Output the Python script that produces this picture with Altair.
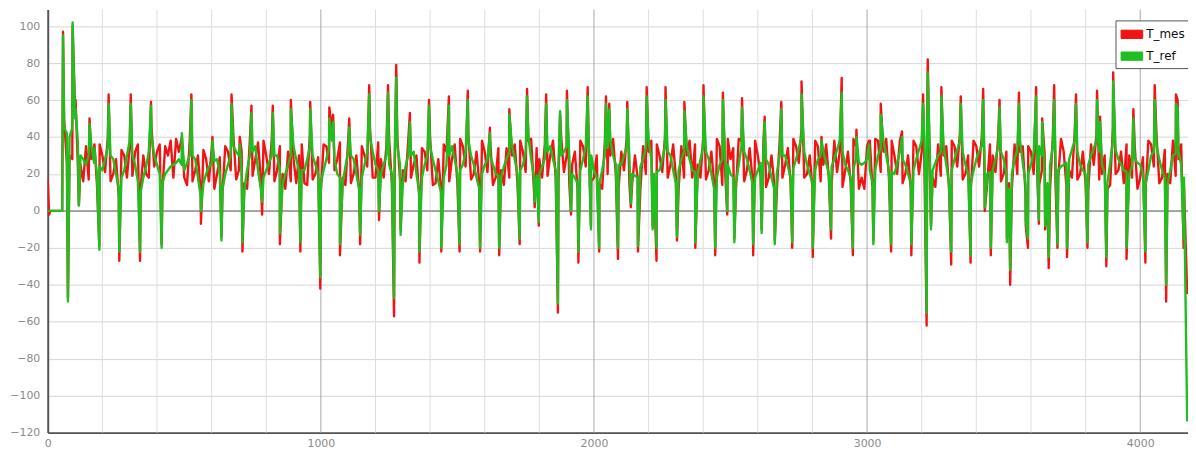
import altair as alt
import pandas as pd

series_names = ["T_mes", "T_ref"]
series_colors = ["#f01414", "#1fbf1f"]

# regular samples every 20 units (x = 0, 20, ..., 4160)
base_x = list(range(0, 4161, 20))
base_mes = [
    17, 0, 0, 50, 30, 55, 25, 35, 28, 15,
    30, 40, 20, 8, 30, 35, 32, 12, 20, 45,
    32, 12, 30, 18, 32, 18, 38, 22, 10, 28,
    33, 20, 10, 32, 40, 22, 15, 38, 28, 18,
    30, 38, 22, 20, 32, 28, 30, 15, 42, 20,
    10, 35, 45, 28, 18, 38, 20, 12, 30, 45,
    18, 28, 35, 15, 40, 22, 38, 25, 8, 32,
    40, 15, 12, 32, 28, 15, 35, 42, 20, 15,
    32, 38, 18, 22, 34, 30, 15, 32, 38, 12,
    28, 36, 30, 18, 40, 30, 25, 12, 35, 42,
    18, 15, 38, 30, 20, 32, 40, 15, 18, 35,
    32, 15, 30, 40, 25, 18, 35, 30, 18, 25,
    40, 22, 15, 35, 22, 28, 12, 38, 22, 18,
    30, 36, 18, 15, 38, 25, 15, 35, 45, 20,
    12, 35, 25, 18, 38, 32, 22, 15, 35, 18,
    35, 12, 38, 32, 18, 30, 38, 20, 12, 35,
    32, 45, 18, 36, 30, 12, 35, 42, 20, 12,
    35, 40, 15, 30, 40, 20, 15, 36, 32, 10,
    32, 35, 22, 12, 40, 18, 32, 22, 42, 20,
    15, 36, 42, 20, 12, 45, 22, 15, 30, 35,
    18, 12, 36, 40, 18, 20, 38, 28, 15,
]
base_ref = [
    0, 0, 0, 45, 40, 50, 30, 25, 35, 20,
    22, 35, 28, 12, 22, 38, 25, 10, 24, 40,
    25, 15, 22, 25, 28, 22, 30, 28, 8, 20,
    25, 28, 12, 25, 35, 30, 12, 30, 35, 12,
    22, 30, 30, 15, 25, 35, 22, 22, 35, 25,
    15, 28, 38, 20, 15, 32, 28, 12, 25, 40,
    25, 20, 30, 20, 35, 15, 30, 32, 10, 25,
    35, 22, 10, 25, 35, 20, 25, 38, 25, 12,
    25, 30, 20, 18, 28, 35, 20, 25, 40, 18,
    20, 28, 35, 22, 30, 35, 20, 15, 28, 40,
    22, 15, 30, 38, 25, 25, 35, 20, 18, 28,
    38, 20, 22, 35, 30, 15, 28, 35, 22, 20,
    35, 28, 12, 25, 30, 20, 15, 35, 28, 15,
    22, 30, 25, 12, 30, 30, 18, 28, 40, 25,
    15, 28, 32, 20, 28, 38, 25, 18, 28, 25,
    28, 15, 30, 38, 22, 20, 32, 25, 15, 28,
    38, 40, 22, 30, 35, 15, 28, 38, 25, 15,
    28, 35, 20, 22, 35, 28, 12, 28, 38, 15,
    25, 40, 30, 15, 35, 22, 25, 28, 38, 25,
    20, 30, 38, 25, 15, 38, 28, 22, 20, 28,
    25, 15, 30, 35, 22, 15, 30, 32, 18,
]

# in-between samples (x = 10, 30, ..., 4150)
mid_x = list(range(10, 4151, 20))
mid_mes = [
    0, 0, 0, 26, 28, 26, 16, 17, 35, 36,
    21, 16, 28, 33, 18, 19, 36, 30, 18, 24,
    36, 35, 38, 39, 39, 14, 16, 30, 33, 16,
    12, 29, 35, 22, 17, 32, 12, 19, 37, 38,
    20, 16, 35, 12, 16, 15, 36, 14, 17, 29,
    36, 26, 22, 37, 14, 15, 30, 35, 24, 18,
    37, 18, 39, 14, 17, 16, 18, 30, 34, 22,
    14, 28, 36, 16, 36, 39, 24, 17, 32, 38,
    21, 14, 34, 14, 18, 36, 38, 21, 39, 34,
    18, 19, 38, 15, 21, 14, 32, 38, 24, 16,
    30, 12, 20, 39, 12, 22, 14, 30, 12, 20,
    38, 36, 21, 18, 36, 12, 18, 38, 36, 18,
    17, 32, 39, 14, 39, 34, 39, 16, 34, 38,
    19, 13, 30, 12, 18, 34, 39, 26, 18, 30,
    38, 16, 36, 14, 21, 13, 32, 39, 12, 12,
    38, 39, 21, 39, 38, 20, 15, 30, 38, 20,
    24, 18, 13, 19, 35, 38, 24, 17, 30, 38,
    24, 14, 36, 21, 16, 32, 12, 20, 35, 35,
    20, 14, 31, 12, 15, 39, 13, 18, 17, 32,
    12, 25, 17, 30, 14, 20, 32, 36, 18, 12,
    29, 38, 24, 15, 33, 15, 19, 36,
]
mid_ref = [
    0, 0, 0, 42, 45, 38, 28, 30, 26, 24,
    28, 30, 20, 18, 30, 30, 16, 18, 32, 30,
    20, 20, 24, 26, 25, 26, 30, 18, 15, 24,
    27, 20, 20, 30, 32, 20, 22, 32, 22, 18,
    26, 30, 22, 20, 30, 28, 22, 28, 30, 20,
    22, 34, 28, 18, 24, 30, 20, 18, 32, 32,
    22, 25, 25, 28, 25, 24, 30, 20, 18, 30,
    28, 16, 18, 30, 28, 22, 32, 30, 18, 20,
    28, 25, 19, 24, 32, 28, 22, 32, 28, 19,
    24, 32, 28, 26, 32, 28, 18, 22, 35, 30,
    18, 22, 34, 30, 25, 30, 28, 19, 24, 34,
    28, 21, 28, 32, 22, 22, 32, 28, 21, 28,
    32, 20, 18, 28, 25, 18, 25, 32, 22, 18,
    26, 28, 18, 21, 30, 24, 23, 34, 32, 20,
    22, 30, 26, 24, 33, 32, 22, 23, 26, 26,
    22, 22, 34, 30, 21, 26, 28, 20, 22, 33,
    39, 31, 26, 32, 25, 22, 33, 32, 20, 22,
    32, 28, 21, 28, 32, 20, 20, 33, 26, 20,
    32, 35, 22, 25, 28, 24, 26, 33, 32, 22,
    25, 34, 32, 20, 26, 33, 25, 21, 24, 26,
    20, 22, 32, 28, 18, 22, 31, 25,
]

# spikes (peaks and troughs)
spike_x = [5, 53, 56, 74, 91, 102, 114, 153, 171, 189, 223, 262, 304, 338, 378, 417,
           491, 526, 561, 603, 636, 673, 703, 713, 746, 785, 824, 850, 890, 925, 961, 998,
           1031, 1045, 1070, 1104, 1144, 1177, 1213, 1246, 1268, 1276, 1292, 1326, 1361, 1396,
           1441, 1469, 1508, 1538, 1583, 1619, 1653, 1690, 1728, 1755, 1783, 1798, 1825, 1868,
           1876, 1901, 1916, 1943, 1977, 1989, 2019, 2044, 2056, 2088, 2122, 2135, 2161, 2193,
           2215, 2229, 2262, 2304, 2331, 2371, 2401, 2444, 2472, 2488, 2514, 2542, 2583, 2614,
           2625, 2662, 2686, 2726, 2760, 2801, 2833, 2868, 2907, 2948, 2961, 3007, 3023, 3050,
           3088, 3128, 3162, 3205, 3218, 3222, 3234, 3272, 3308, 3343, 3379, 3425, 3431, 3453,
           3485, 3512, 3524, 3556, 3581, 3589, 3619, 3629, 3641, 3652, 3665, 3685, 3697, 3732,
           3765, 3807, 3842, 3853, 3876, 3901, 3950, 3975, 4019, 4053, 4095, 4131, 4137, 4159,
           4172]
spike_mes = [-2, 0, 97, -47, 100, 60, 3, 50, 36, -19, 63, -27, 63, -27, 59, -18,
             40, 63, -7, 40, -14, 63, 40, -22, 57, -2, 57, -18, 60, -22, 59, -42,
             56, 52, -24, 50, -18, 68, -5, 68, -57, 79, -10, 53, -28, 60,
             -22, 62, -22, 65, -22, 45, -24, 55, -18, 66, 2, -8, 63, -55,
             52, 65, -2, -28, 67, -8, -22, 62, 58, -26, 59, 2, -22, 67,
             -8, -27, 67, -16, 59, -20, 68, -24, 64, -2, -15, 61, -24, -10,
             51, -16, 59, -20, 70, -25, 40, -15, 72, -24, 44, 38, -16, 58,
             -22, 43, -24, 63, -62, 82, -8, 67, -29, 62, -28, 66, 0, -24,
             60, -15, -40, 64, -8, -20, 67, -7, 50, -10, -31, 68, -20, -25,
             63, -20, 65, 51, -30, 75, -26, 55, -28, 68, -49, 63, 60, -20,
             -45]
spike_ref = [0, 0, 95, -49, 102, 55, 3, 47, 34, -21, 58, -22, 58, -22, 57, -20,
             42, 60, 0, 38, -16, 58, 36, -17, 53, 5, 53, -12, 55, -17, 55, -36,
             50, 48, -18, 45, -13, 63, 0, 64, -47, 72, -13, 48, -22, 57,
             -20, 57, -18, 60, -20, 42, -20, 52, -15, 62, 5, -6, 58, -50,
             54, 60, 0, -22, 62, -10, -20, 58, 55, -20, 55, 4, -19, 62,
             -10, -20, 60, -14, 54, -17, 62, -20, 60, 0, -17, 56, -18, -12,
             48, -18, 55, -17, 63, -20, 38, -10, 64, -20, 40, 36, -18, 52,
             -18, 40, -18, 58, -55, 75, -10, 62, -22, 58, -24, 60, 2, -20,
             56, -17, -32, 58, -5, -15, 62, -5, 48, -8, -25, 60, -18, -20,
             58, -17, 60, 48, -25, 70, -20, 50, -22, 60, -40, 58, 55, -15,
             -114]

x_labels = [0, 1000, 2000, 3000, 4000]
x_grid_minor = [v for v in range(200, 4175, 200) if v % 1000 != 0]
x_grid_major = [1000, 2000, 3000, 4000]
y_labels = list(range(-120, 101, 20))
zero_line = [0]

rows = []
for s, bvals, mvals, svals in [
    (series_names[0], base_mes, mid_mes, spike_mes),
    (series_names[1], base_ref, mid_ref, spike_ref),
]:
    pts = list(zip(base_x, bvals)) + list(zip(mid_x, mvals)) + list(zip(spike_x, svals))
    pts.sort(key=lambda p: p[0])
    for i, (x, v) in enumerate(pts):
        rows.append({"x": x, "value": v, "series": s, "order": i})
df = pd.DataFrame(rows)

xscale = alt.Scale(domain=[0, 4175], nice=False, zero=False)
yscale = alt.Scale(domain=[-120, 109], nice=False, zero=False)
cscale = alt.Scale(domain=series_names, range=series_colors)

xaxis = alt.Axis(values=x_labels, title=None, grid=False, ticks=False,
                 labelPadding=5, labelFlush=False, format="d")
yaxis = alt.Axis(values=y_labels, title=None, grid=True, gridColor="#d6d6d6",
                 ticks=False, labelPadding=8, format="d")

legend = alt.Legend(
    title=None,
    orient="none",
    legendX=1075,
    legendY=11,
    symbolType="M-1,-0.5H1.6V0.5H-1Z",
    symbolSize=280,
    symbolStrokeWidth=1,
    symbolStrokeColor="#333333",
    symbolOpacity=1,
    strokeColor="#555555",
    fillColor="white",
    padding=5,
    labelFont="DejaVu Sans",
    labelFontSize=12,
    labelColor="#111111",
    labelOffset=8,
    rowPadding=6,
)
cenc = alt.Color("series:N", scale=cscale, legend=legend)

# legend carrier: one clipped point per series, placed outside the x domain
legend_df = pd.DataFrame({"x": [-1000, -1000], "value": [0, 0], "series": series_names})
legend_layer = alt.Chart(legend_df).mark_point(
    filled=True, clip=True, opacity=1, stroke="#333333", strokeWidth=1
).encode(
    x=alt.X("x:Q", scale=xscale, axis=xaxis),
    y=alt.Y("value:Q", scale=yscale, axis=yaxis),
    color=cenc,
)

minor = alt.Chart(pd.DataFrame({"x": x_grid_minor})).mark_rule(
    color="#dedede", strokeWidth=1
).encode(x=alt.X("x:Q", scale=xscale, axis=xaxis))

major = alt.Chart(pd.DataFrame({"x": x_grid_major})).mark_rule(
    color="#a9a9a9", strokeWidth=1
).encode(x=alt.X("x:Q", scale=xscale, axis=xaxis))

zero = alt.Chart(pd.DataFrame({"value": zero_line})).mark_rule(
    color="#8c8c8c", strokeWidth=1.5
).encode(y=alt.Y("value:Q", scale=yscale, axis=yaxis))

xenc = alt.X("x:Q", scale=xscale, axis=xaxis)
yenc = alt.Y("value:Q", scale=yscale, axis=yaxis)

line_mes = alt.Chart(df).transform_filter(alt.datum.series == "T_mes").mark_line(
    strokeWidth=2.4, clip=True, strokeJoin="round"
).encode(x=xenc, y=yenc, color=cenc, order="order:Q")

line_ref = alt.Chart(df).transform_filter(alt.datum.series == "T_ref").mark_line(
    strokeWidth=2.4, clip=True, strokeJoin="round"
).encode(x=xenc, y=yenc, color=cenc, order="order:Q")

chart = alt.layer(legend_layer, minor, major, zero, line_mes, line_ref).properties(
    width=1148, height=426,
    autosize=alt.AutoSizeParams(type="none"),
    padding={"left": 40, "top": 0, "right": 0, "bottom": 18},
    background="white",
).configure_view(strokeWidth=0).configure_axis(
    labelFont="DejaVu Sans", labelFontSize=11, labelColor="#8a8a8a",
    domainColor="#555555", domainWidth=2,
)

chart.save("out.html", embed_options={"renderer": "svg", "actions": False})
